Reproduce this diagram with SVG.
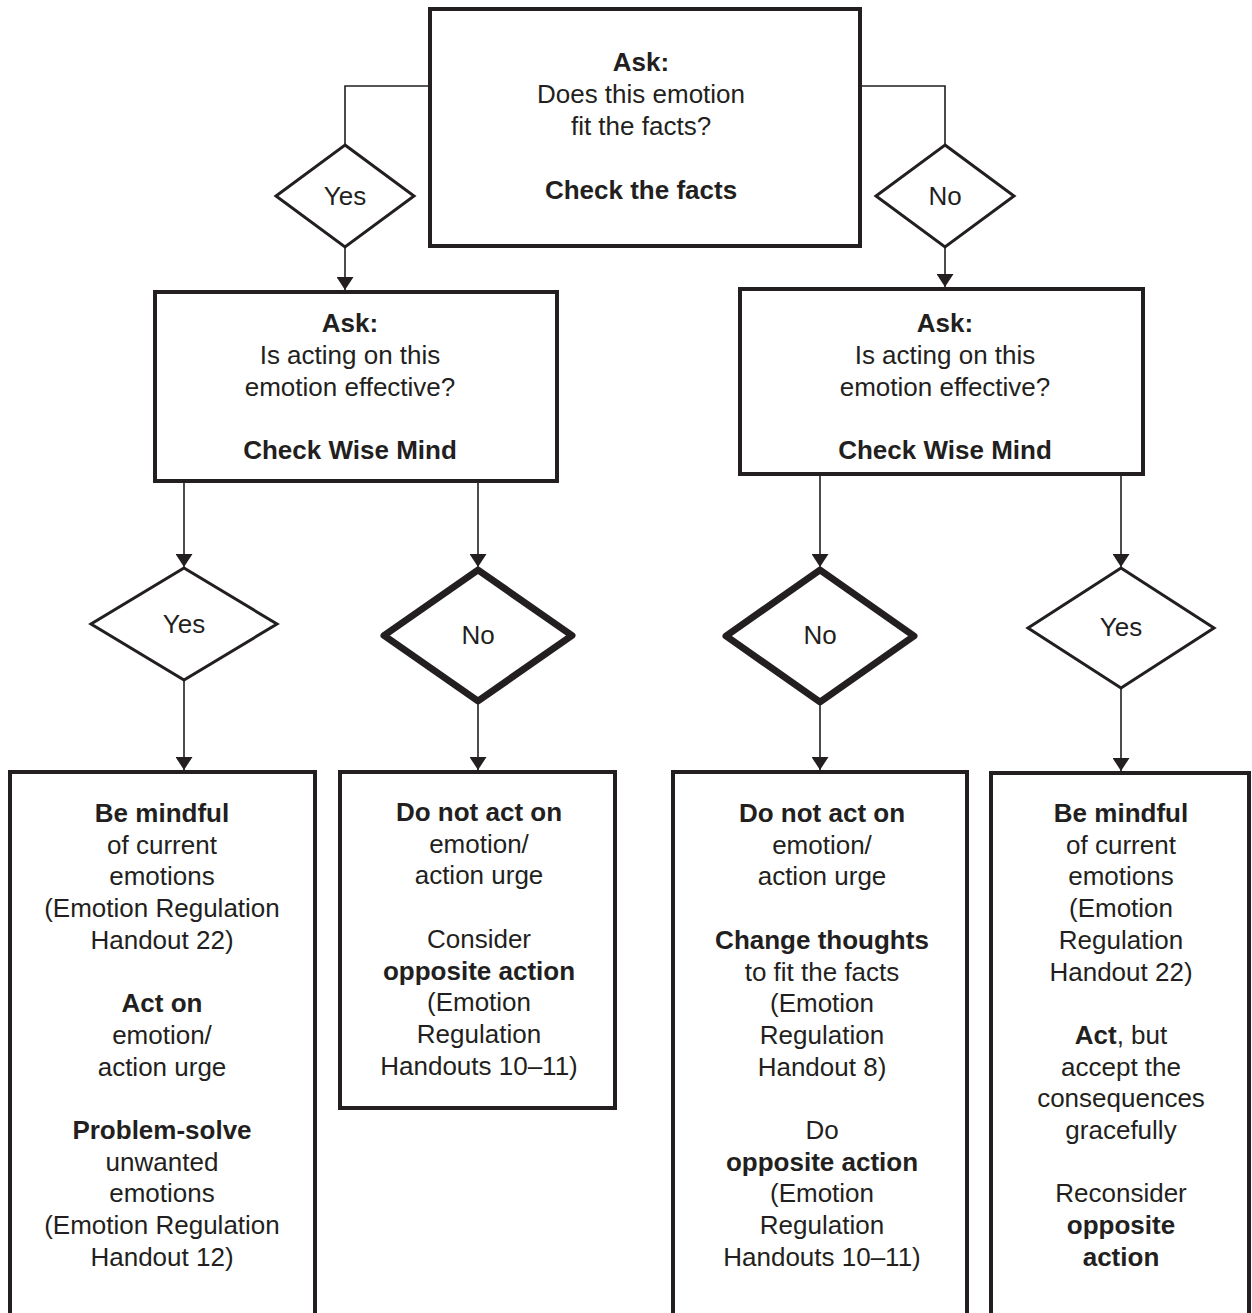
<svg xmlns="http://www.w3.org/2000/svg" width="1252" height="1313" viewBox="0 0 1252 1313">
<style>
text{font-family:"Liberation Sans",Arial,Helvetica,sans-serif;font-size:26px;fill:#231f20;text-anchor:middle}
.b{font-weight:bold}
.box{fill:#fff;stroke:#231f20;stroke-width:4}
.dia{fill:#fff;stroke:#231f20;stroke-width:3;stroke-linejoin:miter}
.dia2{fill:#fff;stroke:#231f20;stroke-width:7;stroke-linejoin:round}
.con{fill:none;stroke:#231f20;stroke-width:1.6}
</style>
<defs>
<marker id="ah" markerUnits="userSpaceOnUse" markerWidth="13" markerHeight="17" viewBox="0 0 13 17" refX="13" refY="8.5" orient="auto">
<path d="M0,0 L13,8.5 L0,17 z" fill="#231f20"/>
</marker>
</defs>
<rect width="1252" height="1313" fill="#fff"/>
<g id="connectors">
<path class="con" d="M430,86 H345 V145"/>
<path class="con" d="M860,86 H945 V145"/>
<path class="con" d="M345,247 V290" marker-end="url(#ah)"/>
<path class="con" d="M945,247 V287" marker-end="url(#ah)"/>
<path class="con" d="M184,481 V567" marker-end="url(#ah)"/>
<path class="con" d="M478,481 V567" marker-end="url(#ah)"/>
<path class="con" d="M820,474 V567" marker-end="url(#ah)"/>
<path class="con" d="M1121,474 V567" marker-end="url(#ah)"/>
<path class="con" d="M184,680 V770" marker-end="url(#ah)"/>
<path class="con" d="M478,702 V770" marker-end="url(#ah)"/>
<path class="con" d="M820,703 V770" marker-end="url(#ah)"/>
<path class="con" d="M1121,688 V771" marker-end="url(#ah)"/>
</g>
<g id="top">
<rect class="box" x="430" y="9" width="430" height="237"/>
<text x="641" y="71" class="b">Ask:</text>
<text x="641" y="103">Does this emotion</text>
<text x="641" y="135">fit the facts?</text>
<text x="641" y="199" class="b">Check the facts</text>
</g>
<g id="yes1">
<polygon class="dia" points="345,145 414,196 345,247 276,196"/>
<text x="345" y="205">Yes</text>
</g>
<g id="no1">
<polygon class="dia" points="945,145 1014,196 945,247 876,196"/>
<text x="945" y="205">No</text>
</g>
<g id="askL">
<rect class="box" x="155" y="292" width="402" height="189"/>
<text x="350" y="332" class="b">Ask:</text>
<text x="350" y="364">Is acting on this</text>
<text x="350" y="396">emotion effective?</text>
<text x="350" y="459" class="b">Check Wise Mind</text>
</g>
<g id="askR">
<rect class="box" x="740" y="289" width="403" height="185"/>
<text x="945" y="332" class="b">Ask:</text>
<text x="945" y="364">Is acting on this</text>
<text x="945" y="396">emotion effective?</text>
<text x="945" y="459" class="b">Check Wise Mind</text>
</g>
<g id="yesL">
<polygon class="dia" points="184,568 277,624 184,680 91,624"/>
<text x="184" y="633">Yes</text>
</g>
<g id="noL">
<polygon class="dia2" points="478,570 572,635.5 478,701 384,635.5"/>
<text x="478" y="644">No</text>
</g>
<g id="noR">
<polygon class="dia2" points="820,570 914,636 820,702 726,636"/>
<text x="820" y="644">No</text>
</g>
<g id="yesR">
<polygon class="dia" points="1121,568 1214,628 1121,688 1028,628"/>
<text x="1121" y="636">Yes</text>
</g>
<g id="box1">
<path class="box" d="M10,1330 V772 H315 V1330"/>
<text x="162" y="822" class="b">Be mindful</text>
<text x="162" y="853.7">of current</text>
<text x="162" y="885.4">emotions</text>
<text x="162" y="917.1">(Emotion Regulation</text>
<text x="162" y="948.8">Handout 22)</text>
<text x="162" y="1012.2" class="b">Act on</text>
<text x="162" y="1043.9">emotion/</text>
<text x="162" y="1075.6">action urge</text>
<text x="162" y="1139" class="b">Problem-solve</text>
<text x="162" y="1170.7">unwanted</text>
<text x="162" y="1202.4">emotions</text>
<text x="162" y="1234.1">(Emotion Regulation</text>
<text x="162" y="1265.8">Handout 12)</text>
</g>
<g id="box2">
<rect class="box" x="340" y="772" width="275" height="336"/>
<text x="479" y="821" class="b">Do not act on</text>
<text x="479" y="852.7">emotion/</text>
<text x="479" y="884.4">action urge</text>
<text x="479" y="947.8">Consider</text>
<text x="479" y="979.5" class="b">opposite action</text>
<text x="479" y="1011.2">(Emotion</text>
<text x="479" y="1042.9">Regulation</text>
<text x="479" y="1074.6">Handouts 10–11)</text>
</g>
<g id="box3">
<path class="box" d="M673,1330 V772 H967 V1330"/>
<text x="822" y="822" class="b">Do not act on</text>
<text x="822" y="853.7">emotion/</text>
<text x="822" y="885.4">action urge</text>
<text x="822" y="948.8" class="b">Change thoughts</text>
<text x="822" y="980.5">to fit the facts</text>
<text x="822" y="1012.2">(Emotion</text>
<text x="822" y="1043.9">Regulation</text>
<text x="822" y="1075.6">Handout 8)</text>
<text x="822" y="1139">Do</text>
<text x="822" y="1170.7" class="b">opposite action</text>
<text x="822" y="1202.4">(Emotion</text>
<text x="822" y="1234.1">Regulation</text>
<text x="822" y="1265.8">Handouts 10–11)</text>
</g>
<g id="box4">
<path class="box" d="M991,1330 V773 H1249 V1330"/>
<text x="1121" y="822" class="b">Be mindful</text>
<text x="1121" y="853.7">of current</text>
<text x="1121" y="885.4">emotions</text>
<text x="1121" y="917.1">(Emotion</text>
<text x="1121" y="948.8">Regulation</text>
<text x="1121" y="980.5">Handout 22)</text>
<text x="1121" y="1043.9"><tspan class="b">Act</tspan>, but</text>
<text x="1121" y="1075.6">accept the</text>
<text x="1121" y="1107.3">consequences</text>
<text x="1121" y="1139">gracefully</text>
<text x="1121" y="1202.4">Reconsider</text>
<text x="1121" y="1234.1" class="b">opposite</text>
<text x="1121" y="1265.8" class="b">action</text>
</g>
</svg>
